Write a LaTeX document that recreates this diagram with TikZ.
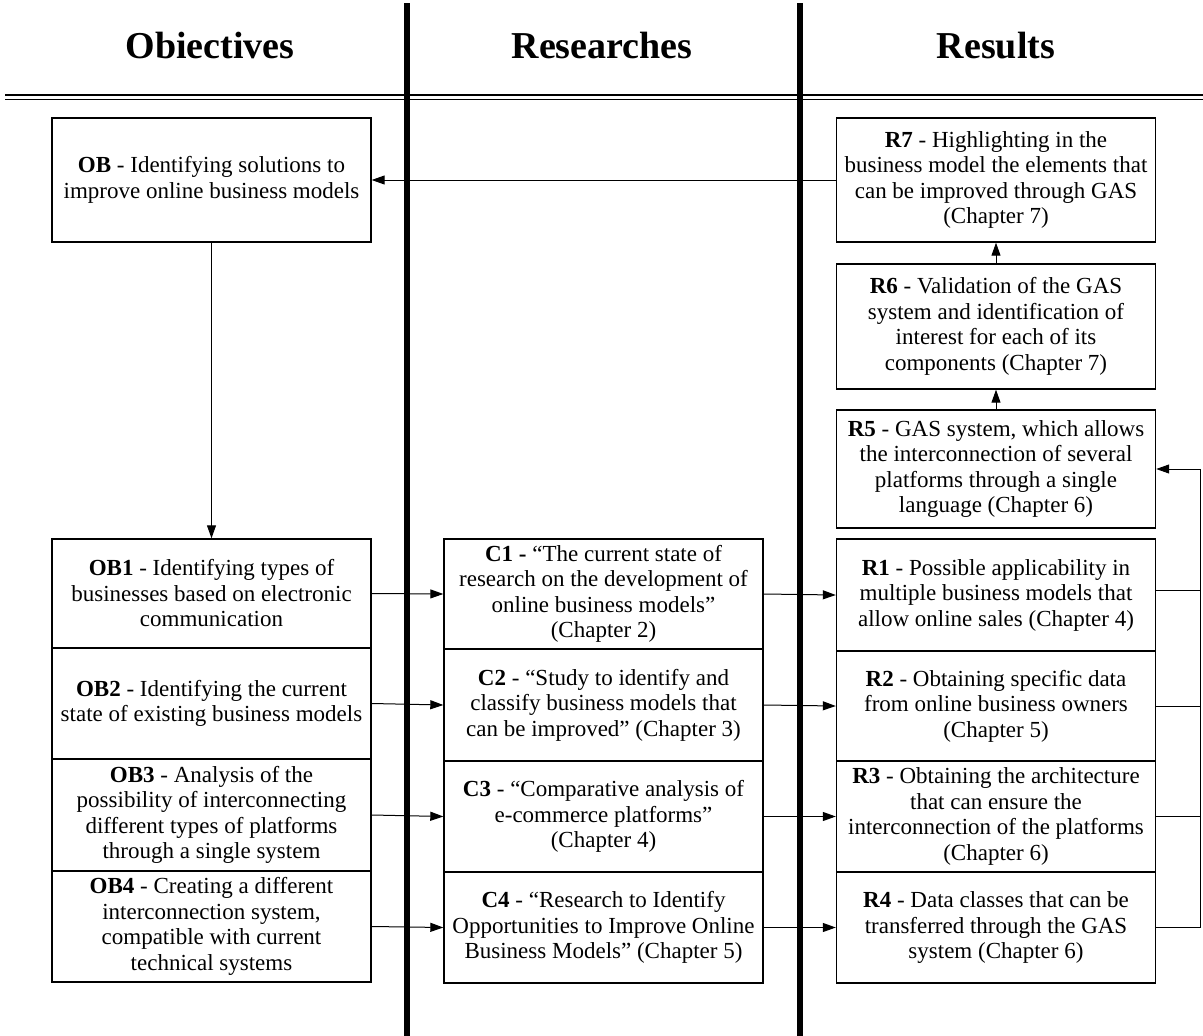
\documentclass[tikz,border=0pt]{standalone}
\usepackage{fontspec}
\setmainfont{Liberation Serif}
\usetikzlibrary{arrows.meta}
\begin{document}
\begin{tikzpicture}[x=1pt,y=-1pt,
  box/.style={draw, line width=1.4pt, minimum width=319pt, align=center,
    inner sep=2pt, font=\fontsize{23}{25.5}\selectfont},
  head/.style={font=\fontsize{38}{40}\selectfont\bfseries, anchor=base},
  conn/.style={line width=1pt},
  arr/.style={line width=1pt, -{Triangle[length=13pt,width=9pt]}},
  rule/.style={line width=5.5pt},
  hrule/.style={line width=1.8pt},
]
\useasboundingbox (0,0) rectangle (1203,1036);
\fill[white] (0,0) rectangle (1203,1036);

% column headings
\node[head] (hob) at (210,58) {Obiectives};
\node[head] (hre) at (602,58) {Researches};
\node[head] (hrs) at (996,58) {Results};

% double rule under the headings and the column separators
\draw[hrule] (5,95) -- (1203,95);
\draw[hrule] (5,99.5) -- (1203,99.5);
\draw[rule] (407,3) -- (407,1036);
\draw[rule] (800,3) -- (800,1036);

% objectives
\node[box, minimum height=124pt] (ob) at (211.5,180)
  {\textbf{OB} - Identifying solutions to\\improve online business models};
\node[box, minimum height=109pt] (ob1) at (211.5,593.5)
  {\textbf{OB1} - Identifying types of\\businesses based on electronic\\communication};
\node[box, minimum height=111pt] (ob2) at (211.5,703.5)
  {\textbf{OB2} - Identifying the current\\state of existing business models};
\node[box, minimum height=112pt] (ob3) at (211.5,815)
  {\textbf{OB3} - Analysis of the\\possibility of interconnecting\\different types of platforms\\through a single system};
\node[box, minimum height=111pt] (ob4) at (211.5,926.5)
  {\textbf{OB4} - Creating a different\\interconnection system,\\compatible with current\\technical systems};

% researches
\node[box, minimum height=110pt] (c1) at (603.5,594)
  {\textbf{C1 -} “The current state of\\research on the development of\\online business models”\\(Chapter 2)};
\node[box, minimum height=112pt] (c2) at (603.5,705)
  {\textbf{C2} - “Study to identify and\\classify business models that\\can be improved” (Chapter 3)};
\node[box, minimum height=111pt] (c3) at (603.5,816.5)
  {\textbf{C3} - “Comparative analysis of\\e-commerce platforms”\\(Chapter 4)};
\node[box, minimum height=111pt] (c4) at (603.5,927.5)
  {\textbf{C4} - “Research to Identify\\Opportunities to Improve Online\\Business Models” (Chapter 5)};

% results
\node[box, minimum height=124pt] (r7) at (996,180)
  {\textbf{R7} - Highlighting in the\\business model the elements that\\can be improved through GAS\\(Chapter 7)};
\node[box, minimum height=125pt] (r6) at (996,326.5)
  {\textbf{R6} - Validation of the GAS\\system and identification of\\interest for each of its\\components (Chapter 7)};
\node[box, minimum height=118pt] (r5) at (996,469)
  {\textbf{R5} - GAS system, which allows\\the interconnection of several\\platforms through a single\\language (Chapter 6)};
\node[box, minimum height=112pt] (r1) at (996,595)
  {\textbf{R1} - Possible applicability in\\multiple business models that\\allow online sales (Chapter 4)};
\node[box, minimum height=110pt] (r2) at (996,706)
  {\textbf{R2} - Obtaining specific data\\from online business owners\\(Chapter 5)};
\node[box, minimum height=111pt] (r3) at (996,816.5)
  {\textbf{R3} - Obtaining the architecture\\that can ensure the\\interconnection of the platforms\\(Chapter 6)};
\node[box, minimum height=111pt] (r4) at (996,927.5)
  {\textbf{R4} - Data classes that can be\\transferred through the GAS\\system (Chapter 6)};

% connectors
\draw[arr] (r7.west) -- (ob.east);
\draw[arr] (ob.south) -- (ob1.north);
\draw[arr] (r6.north) -- (r7.south);
\draw[arr] (r5.north) -- (r6.south);

\foreach \i in {1,2,3,4} {
  \draw[arr] (ob\i.east) -- (c\i.west);
  \draw[arr] (c\i.east) -- (r\i.west);
}

% feedback from R1--R4 into R5
\coordinate (fb) at (1200,469);
\draw[conn] ([yshift=5pt]r1.east) -- ([yshift=5pt]r1.east -| fb);
\draw[conn] (r2.east) -- (r2.east -| fb);
\draw[conn] (r3.east) -- (r3.east -| fb);
\draw[arr] (r4.east) -| (fb) -- (r5.east);
\end{tikzpicture}
\end{document}
